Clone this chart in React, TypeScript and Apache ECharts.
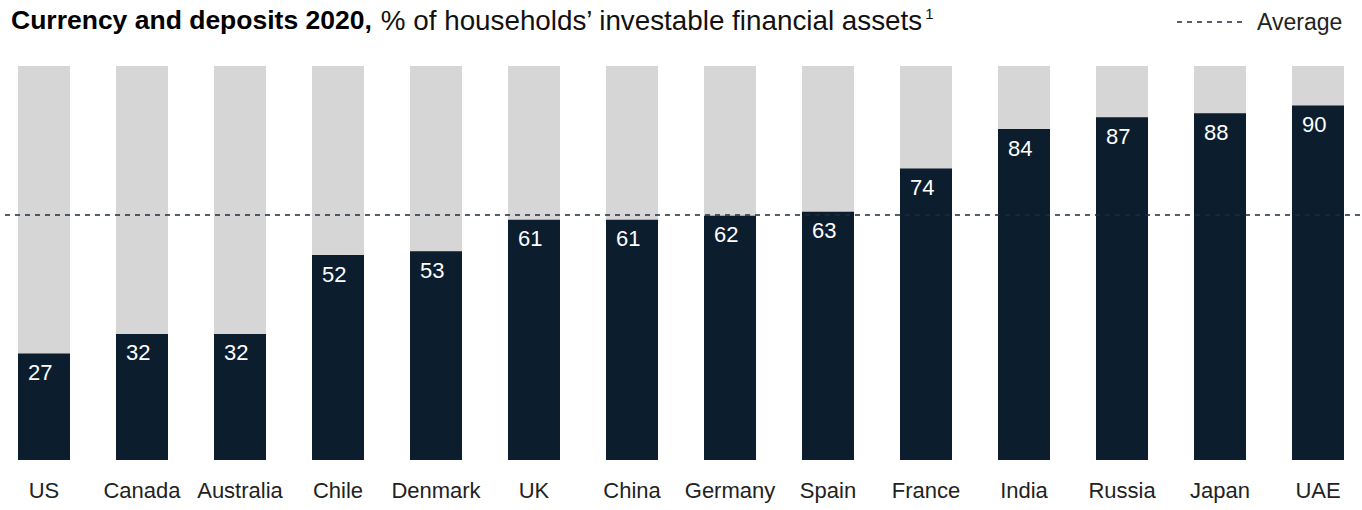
import React, { useEffect, useRef } from "react";
import * as echarts from "echarts";

const categories = ["US", "Canada", "Australia", "Chile", "Denmark", "UK", "China", "Germany", "Spain", "France", "India", "Russia", "Japan", "UAE"];
const values = [27, 32, 32, 52, 53, 61, 61, 62, 63, 74, 84, 87, 88, 90];
const average = 62.3;
const titleBold = "Currency and deposits 2020,";
const titleRegular = "% of households’ investable financial assets";
const titleNote = "1";
const legendLabel = "Average";

const FONT = "'Liberation Sans', Arial, sans-serif";
const NAVY = "#0c1e2e";
const GRAY = "#d6d6d6";
const OFF = 5; // inner chart is shifted left by this many pixels

export default function App() {
  const ref = useRef<HTMLDivElement>(null);
  useEffect(() => {
    if (!ref.current) return;
    const chart = echarts.init(ref.current, null, { renderer: "svg" });
    chart.setOption({
      animation: false,
      textStyle: { fontFamily: FONT },
      title: {
        left: 11 + OFF,
        top: 6,
        padding: 0,
        text: `{b|${titleBold}} {r|${titleRegular}}{s|${titleNote}}`,
        textStyle: {
          rich: {
            b: { fontFamily: FONT, fontSize: 26.5, fontWeight: "bold", color: "#000" },
            r: { fontFamily: FONT, fontSize: 27.8, fontWeight: "normal", color: "#111", padding: [0, 0, 0, 4] },
            s: { fontFamily: FONT, fontSize: 15, fontWeight: "normal", color: "#111", verticalAlign: "top", padding: [0, 0, 12, 2] },
          },
        },
      },
      grid: { left: 0, width: 1372, top: 66, bottom: 50, containLabel: false },
      xAxis: {
        type: "category",
        data: categories,
        axisLine: { show: false },
        axisTick: { show: false },
        axisLabel: { fontFamily: FONT, fontSize: 22, color: "#222", margin: 19, interval: 0 },
      },
      yAxis: { type: "value", min: 0, max: 100, show: false, splitLine: { show: false } },
      series: [
        {
          type: "bar",
          data: values,
          barWidth: 52,
          showBackground: true,
          backgroundStyle: { color: GRAY },
          itemStyle: { color: NAVY },
          label: {
            show: true,
            position: [10, 8],
            fontFamily: FONT,
            fontSize: 22,
            color: "#fff",
          },
          markLine: {
            symbol: "none",
            silent: true,
            label: { show: false },
            lineStyle: { color: "#1c2d3d", type: [5, 5], width: 1.5 },
            data: [{ yAxis: average }],
          },
        },
      ],
      graphic: [
        {
          type: "line",
          shape: { x1: 1177 + OFF, y1: 22, x2: 1245 + OFF, y2: 22 },
          style: { stroke: "#1c2d3d", lineWidth: 1.5, lineDash: [5, 5] },
        },
        {
          type: "text",
          x: 1257 + OFF,
          y: 22,
          style: { text: legendLabel, font: `23px ${FONT}`, fill: "#222", verticalAlign: "middle" },
        },
      ],
    });
    return () => chart.dispose();
  }, []);
  return (
    <div style={{ position: "absolute", left: 0, top: 0, width: 1362, height: 510, overflow: "hidden" }}>
      <div ref={ref} style={{ position: "absolute", left: -OFF, top: 0, width: 1372, height: 510 }} />
    </div>
  );
}
